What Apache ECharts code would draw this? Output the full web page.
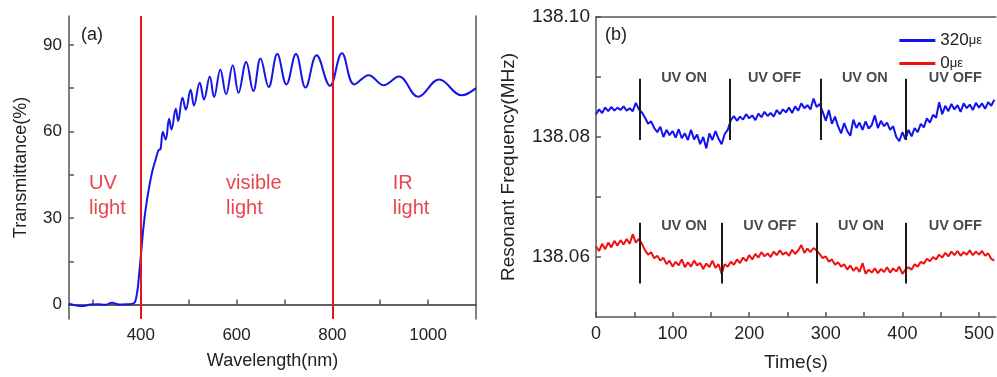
<!DOCTYPE html>
<html>
<head>
<meta charset="utf-8">
<script src="https://cdn.jsdelivr.net/npm/echarts@6/dist/echarts.min.js"></script>
<style>
  html, body { margin: 0; padding: 0; background: #fff; }
  #chart { width: 997px; height: 377px; }
</style>
</head>
<body>
<div id="chart"></div>
<script>
// (a) transmittance spectrum
const wavelength = [250, 265, 280, 295, 310, 325, 340, 355, 370, 385, 392, 396, 400, 405, 410, 417, 424, 431, 437, 441,
  446, 452, 459, 464, 473, 478, 487, 494, 504, 511, 523, 532, 544, 553, 566, 578, 592, 604, 620, 635,
  650, 667, 685, 704, 724, 744, 767, 795, 820, 846, 876, 907, 939, 979, 1023, 1070, 1100];
const transmittance = [0.3, -0.3, -0.5, 0.0, 0.1, -0.1, 0.6, 0.0, 0.1, 0.4, 3.9, 9.7, 16.7, 26, 33, 40.4, 46.2, 50.3, 53.5, 53.8,
  59.8, 57.2, 64.4, 60.7, 67.9, 63.6, 71.7, 67.6, 74.4, 69, 76.9, 71.1, 79, 71.9, 81.5, 72.9, 82.9, 73.4, 84.1, 74,
  85.3, 75.4, 86.8, 76.3, 86.8, 75.2, 86.4, 75.8, 87.1, 76.3, 79.5, 76, 79, 72, 78, 72.5, 75];
const bandEdges = [400, 800];
const bandLabels = [
  [292, 37.5, 'UV\nlight'],
  [578, 37.5, 'visible\nlight'],
  [926, 37.5, 'IR\nlight']
];
const waveTicks = [300, 400, 500, 600, 700, 800, 900, 1000];
const waveLabels = [400, 600, 800, 1000];
const transTicks = [0, 15, 30, 45, 60, 75, 90];
const transLabels = [0, 30, 60, 90];

// (b) resonant frequency vs time
const time = [];
for (let t = 0; t <= 520; t += 4) time.push(t);
const strain320 = [
  138.0838, 138.0846, 138.0840, 138.0849, 138.0843, 138.0850, 138.0844, 138.0849, 138.0845, 138.0851, 138.0844, 138.0848, 138.0843, 138.0857, 138.0846,
  138.0841, 138.0832, 138.0822, 138.0826, 138.0815, 138.0808, 138.0817, 138.0800, 138.0812, 138.0803, 138.0810, 138.0799, 138.0813, 138.0798, 138.0806,
  138.0795, 138.0812, 138.0796, 138.0804, 138.0788, 138.0800, 138.0781, 138.0806, 138.0795, 138.0810, 138.0797, 138.0788, 138.0805, 138.0812,
  138.0828, 138.0835, 138.0827, 138.0834, 138.0829, 138.0838, 138.0831, 138.0836, 138.0828, 138.0839, 138.0833, 138.0842, 138.0835, 138.0840, 138.0834,
  138.0845, 138.0838, 138.0846, 138.0841, 138.0849, 138.0840, 138.0851, 138.0844, 138.0856, 138.0848, 138.0853, 138.0846, 138.0864, 138.0850, 138.0855,
  138.0842, 138.0827, 138.0845, 138.0822, 138.0834, 138.0818, 138.0806, 138.0823, 138.0810, 138.0802, 138.0829, 138.0815, 138.0824, 138.0812,
  138.0826, 138.0814, 138.0820, 138.0836, 138.0815, 138.0827, 138.0818, 138.0824, 138.0812, 138.0818, 138.0800, 138.0793, 138.0808, 138.0796,
  138.0812, 138.0801, 138.0815, 138.0808, 138.0822, 138.0816, 138.0831, 138.0824, 138.0837, 138.0832, 138.0858, 138.0838, 138.0852, 138.0843, 138.0855,
  138.0846, 138.0853, 138.0842, 138.0856, 138.0848, 138.0854, 138.0845, 138.0857, 138.0849, 138.0856, 138.0847, 138.0858, 138.0852, 138.0862
];
const strain0 = [
  138.0618, 138.0610, 138.0622, 138.0613, 138.0624, 138.0616, 138.0627, 138.0619, 138.0628, 138.0621, 138.0630, 138.0622, 138.0638, 138.0624, 138.0630,
  138.0622, 138.0611, 138.0604, 138.0608, 138.0598, 138.0602, 138.0594, 138.0599, 138.0588, 138.0594, 138.0584, 138.0592, 138.0586, 138.0596,
  138.0583, 138.0591, 138.0584, 138.0594, 138.0586, 138.0590, 138.0580, 138.0589, 138.0583, 138.0594, 138.0582, 138.0588, 138.0572,
  138.0588, 138.0584, 138.0592, 138.0587, 138.0596, 138.0590, 138.0599, 138.0593, 138.0603, 138.0596, 138.0605, 138.0599, 138.0608, 138.0601, 138.0606,
  138.0600, 138.0609, 138.0603, 138.0611, 138.0604, 138.0608, 138.0602, 138.0612, 138.0605, 138.0611, 138.0620, 138.0607, 138.0614, 138.0608, 138.0615, 138.0611,
  138.0605, 138.0598, 138.0601, 138.0592, 138.0596, 138.0587, 138.0591, 138.0584, 138.0588, 138.0579, 138.0586, 138.0577, 138.0583, 138.0575, 138.0590,
  138.0572, 138.0579, 138.0574, 138.0581, 138.0573, 138.0580, 138.0575, 138.0583, 138.0574, 138.0581, 138.0576, 138.0584, 138.0572, 138.0579,
  138.0583, 138.0579, 138.0588, 138.0584, 138.0592, 138.0589, 138.0597, 138.0593, 138.0600, 138.0596, 138.0604, 138.0599, 138.0607, 138.0601, 138.0609,
  138.0603, 138.0610, 138.0602, 138.0608, 138.0604, 138.0611, 138.0603, 138.0609, 138.0604, 138.0610, 138.0602, 138.0606, 138.0597, 138.0594
];
const switchTimes320 = [57, 175, 294, 405];
const switchSpan320 = [138.0897, 138.0795];
const switchTimes0 = [57, 164, 288, 405];
const switchSpan0 = [138.0657, 138.0556];
const stateLabels = [
  [115, 138.0898, 'UV ON'], [233, 138.0898, 'UV OFF'], [351, 138.0898, 'UV ON'], [469, 138.0898, 'UV OFF'],
  [115, 138.0652, 'UV ON'], [227, 138.0652, 'UV OFF'], [346, 138.0652, 'UV ON'], [469, 138.0652, 'UV OFF']
];
const timeTicks = [0, 50, 100, 150, 200, 250, 300, 350, 400, 450, 500];
const timeLabels = [0, 100, 200, 300, 400, 500];
const freqTicks = [138.06, 138.07, 138.08, 138.09, 138.10];
const freqLabels = [138.06, 138.08, 138.10];

const FONT = 'Liberation Sans, Arial, sans-serif';
const axisColor = '#555';
const textColor = '#222';

function switchLines(times, span) {
  return times.map(t => [{ coord: [t, span[0]] }, { coord: [t, span[1]] }]);
}

function frameAxis(gridIndex, position, min, max) {
  return {
    gridIndex, position, type: 'value', min, max,
    axisLine: { show: true, lineStyle: { color: axisColor, width: 1.5 } },
    axisTick: { show: false }, axisLabel: { show: false }, splitLine: { show: false }
  };
}

const chart = echarts.init(document.getElementById('chart'));
chart.setOption({
  animation: false,
  textStyle: { fontFamily: FONT },
  title: [
    { text: '(a)', left: 76, top: 21, textStyle: { fontSize: 18, fontWeight: 'normal', color: textColor, fontFamily: FONT } },
    { text: '(b)', left: 600, top: 21, textStyle: { fontSize: 18, fontWeight: 'normal', color: textColor, fontFamily: FONT } }
  ],
  legend: {
    data: ['320με', '0με'],
    orient: 'vertical', right: 10, top: 27, itemGap: 6,
    icon: 'rect', itemWidth: 36, itemHeight: 3,
    formatter: name => name.replace(/^(\d+)(.*)$/, '$1{u|$2}'),
    textStyle: { fontSize: 17, color: textColor, fontFamily: FONT, rich: { u: { fontSize: 13, color: textColor, fontFamily: FONT } } }
  },
  grid: [
    { left: 69, right: 521, top: 16, bottom: 58 },
    { left: 596, right: 0, top: 17, bottom: 58 }
  ],
  xAxis: [
    {
      gridIndex: 0, type: 'value', min: 250, max: 1100,
      name: 'Wavelength(nm)', nameLocation: 'middle', nameGap: 33,
      nameTextStyle: { fontSize: 18, color: textColor },
      axisLine: { lineStyle: { color: axisColor, width: 1.5 } },
      axisTick: { inside: true, length: 5, customValues: waveTicks, lineStyle: { color: axisColor, width: 1.5 } },
      axisLabel: { customValues: waveLabels, fontSize: 17, color: textColor, margin: 8, formatter: v => String(v) },
      splitLine: { show: false }
    },
    frameAxis(0, 'top', 250, 1100),
    {
      gridIndex: 1, type: 'value', min: 0, max: 522,
      name: 'Time(s)', nameLocation: 'middle', nameGap: 36,
      nameTextStyle: { fontSize: 19, color: textColor },
      axisLine: { lineStyle: { color: axisColor, width: 1.5 } },
      axisTick: { inside: true, length: 5, customValues: timeTicks, lineStyle: { color: axisColor, width: 1.5 } },
      axisLabel: { customValues: timeLabels, fontSize: 18, color: textColor, margin: 8, formatter: v => String(v) },
      splitLine: { show: false }
    },
    frameAxis(1, 'top', 0, 522)
  ],
  yAxis: [
    {
      gridIndex: 0, type: 'value', min: -5, max: 100,
      name: 'Transmittance(%)', nameLocation: 'middle', nameGap: 39,
      nameTextStyle: { fontSize: 18, color: textColor },
      axisLine: { show: true, lineStyle: { color: axisColor, width: 1.5 } },
      axisTick: { show: true, inside: true, length: 5, customValues: transTicks, lineStyle: { color: axisColor, width: 1.5 } },
      axisLabel: { customValues: transLabels, fontSize: 17, color: textColor, margin: 7 },
      splitLine: { show: false }
    },
    frameAxis(0, 'right', -5, 100),
    {
      gridIndex: 1, type: 'value', min: 138.05, max: 138.10,
      name: 'Resonant Frequency(MHz)', nameLocation: 'middle', nameGap: 78,
      nameTextStyle: { fontSize: 19, color: textColor },
      axisLine: { show: true, lineStyle: { color: axisColor, width: 1.5 } },
      axisTick: { show: true, inside: true, length: 5, customValues: freqTicks, lineStyle: { color: axisColor, width: 1.5 } },
      axisLabel: { customValues: freqLabels, fontSize: 19, color: textColor, margin: 6, formatter: v => v.toFixed(2) },
      splitLine: { show: false }
    }
  ],
  series: [
    {
      type: 'line', xAxisIndex: 0, yAxisIndex: 0,
      data: wavelength.map((w, i) => [w, transmittance[i]]),
      showSymbol: false, smooth: 0.4,
      lineStyle: { color: '#1515e8', width: 2 },
      markLine: {
        silent: true, symbol: ['none', 'none'], label: { show: false },
        lineStyle: { color: '#e3151f', width: 2, type: 'solid' },
        data: bandEdges.map(x => ({ xAxis: x }))
      }
    },
    {
      type: 'scatter', xAxisIndex: 0, yAxisIndex: 0, symbolSize: 0, silent: true,
      data: bandLabels.map(d => ({ value: [d[0], d[1]], label: { formatter: d[2] } })),
      label: { show: true, position: 'right', distance: 0, fontSize: 20, lineHeight: 25, color: '#e3151f', align: 'left', verticalAlign: 'middle' }
    },
    {
      name: '320με', type: 'line', xAxisIndex: 2, yAxisIndex: 2,
      data: time.map((t, i) => [t, strain320[i]]),
      showSymbol: false, color: '#1212f0',
      lineStyle: { color: '#1212f0', width: 2 },
      markLine: {
        silent: true, symbol: ['none', 'none'], label: { show: false },
        lineStyle: { color: '#1a1a1a', width: 2, type: 'solid' },
        data: switchLines(switchTimes320, switchSpan320)
      }
    },
    {
      name: '0με', type: 'line', xAxisIndex: 2, yAxisIndex: 2,
      data: time.map((t, i) => [t, strain0[i]]),
      showSymbol: false, color: '#f01010',
      lineStyle: { color: '#f01010', width: 2 },
      markLine: {
        silent: true, symbol: ['none', 'none'], label: { show: false },
        lineStyle: { color: '#1a1a1a', width: 2, type: 'solid' },
        data: switchLines(switchTimes0, switchSpan0)
      }
    },
    {
      type: 'scatter', xAxisIndex: 2, yAxisIndex: 2, symbolSize: 0, silent: true,
      data: stateLabels.map(d => ({ value: [d[0], d[1]], label: { formatter: d[2] } })),
      label: { show: true, position: 'inside', fontSize: 14.5, fontWeight: 'bold', color: '#1a1a1a' }
    }
  ]
});
</script>
</body>
</html>
